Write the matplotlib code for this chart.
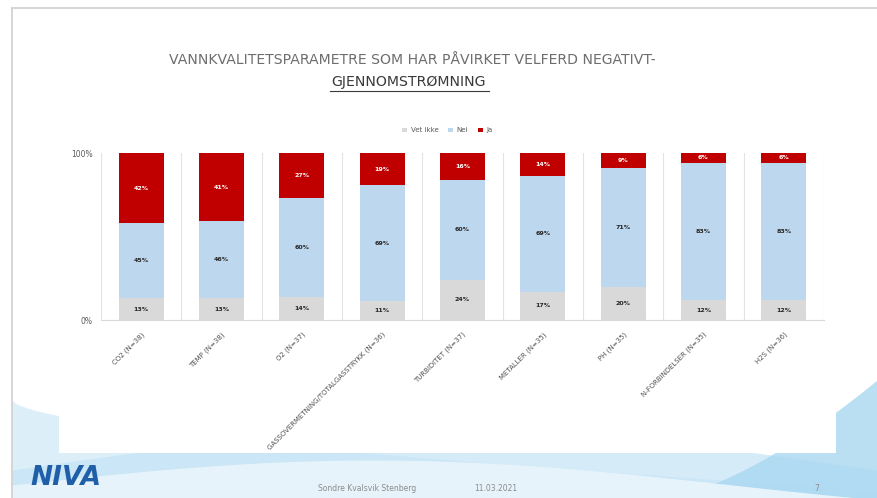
import numpy as np
import matplotlib.pyplot as plt
from matplotlib.patches import Rectangle

categories = ['CO2 (N=38)', 'TEMP (N=38)', 'O2 (N=37)',
              'GASSOVERMETNING/TOTALGASSTRYKK (N=36)', 'TURBIDITET (N=37)',
              'METALLER (N=35)', 'PH (N=35)', 'N-FORBINDELSER (N=35)', 'H2S (N=36)']
vet_ikke = [13, 13, 14, 11, 24, 17, 20, 12, 12]
nei = [45, 46, 60, 69, 60, 69, 71, 83, 83]
ja = [42, 41, 27, 19, 16, 14, 9, 6, 6]
series_names = ['Vet ikke', 'Nei', 'Ja']
colors = ['#d9d9d9', '#bdd7ee', '#c00000']

W, H = 877, 498
fig = plt.figure(figsize=(W / 100, H / 100), dpi=100)

# slide background
bg = fig.add_axes([0, 0, 1, 1])
bg.set_xlim(0, W)
bg.set_ylim(H, 0)
bg.axis('off')
xs = np.linspace(12, W, 300)
t = (xs - 12) / (W - 12)
bg.fill_between(xs, H, 400 + 90 * t ** 0.6, color='#d4ebf8', lw=0, alpha=0.8)
bg.fill_between(xs, H, 470 - 40 * np.sin(t * np.pi), color='#c4e3f5', lw=0, alpha=0.7)
ramp = np.clip((t - 0.75) / 0.25, 0, 1) ** 1.5
bg.fill_between(xs, H, H - (H - 380) * ramp, color='#a9d8f1', lw=0, alpha=0.8)
bg.fill_between(xs, H, 485 - 25 * np.sin(t * np.pi * 1.2), color='#e6f3fb', lw=0)
bg.plot([12, W], [8, 8], color='#d0d0d0', lw=1.2)
bg.plot([12, 12], [8, H], color='#d0d0d0', lw=1.2)
bg.add_patch(Rectangle((59, 100), 777, 353, facecolor='white', edgecolor='none'))
bg.text(30, 478, 'NIVA', color='#1f5fa8', fontsize=19, fontstyle='italic',
        fontweight='bold', va='center', ha='left')
bg.text(367, 488, 'Sondre Kvalsvik Stenberg', fontsize=5.5, color='#8c8c8c', ha='center', va='center')
bg.text(496, 488, '11.03.2021', fontsize=5.5, color='#8c8c8c', ha='center', va='center')
bg.text(817, 488, '7', fontsize=5.5, color='#8c8c8c', ha='center', va='center')

bg.text(412, 60, 'VANNKVALITETSPARAMETRE SOM HAR PÅVIRKET VELFERD NEGATIVT-',
        fontsize=10.1, color='#6e6e6e', ha='center', va='center', family='DejaVu Sans')
bg.text(409, 82, 'GJENNOMSTRØMNING', fontsize=10.2, color='#3a3a3a', ha='center',
        va='center', family='DejaVu Sans')
bg.plot([330, 489], [91, 91], color='#3a3a3a', lw=0.8)

ax = fig.add_axes([101 / W, 1 - 320 / H, 723 / W, 167 / H])
x = np.arange(len(categories))
totals = np.array(vet_ikke) + np.array(nei) + np.array(ja)
bottom = np.zeros(len(categories))
for name, vals, c in zip(series_names, [vet_ikke, nei, ja], colors):
    v = np.array(vals, dtype=float)
    h = v / totals * 100
    ax.bar(x, h, 0.56, bottom=bottom, color=c, label=name, zorder=3)
    for xi, b, hh, val in zip(x, bottom, h, v):
        ax.text(xi, b + hh / 2, f'{int(val)}%', ha='center', va='center',
                fontsize=4.5, fontweight='bold',
                color='white' if name == 'Ja' else '#262626', zorder=4)
    bottom += h

ax.set_xlim(-0.5, len(categories) - 0.5)
ax.set_ylim(0, 100)
ax.set_yticks([0, 100])
ax.set_yticklabels(['0%', '100%'], fontsize=5.5, color='#595959')
ax.set_xticks(x)
ax.set_xticklabels(categories, rotation=45, ha='right', rotation_mode='anchor',
                   fontsize=5, color='#505050')
ax.tick_params(axis='y', length=0, pad=6)
ax.tick_params(axis='x', length=0, pad=8)
for s in ['top', 'right', 'left']:
    ax.spines[s].set_visible(False)
ax.spines['bottom'].set_color('#d9d9d9')
for b in np.arange(-0.5, len(categories), 1):
    ax.axvline(b, color='#e3e3e3', lw=0.8, zorder=1)

ax.legend(loc='lower center', bbox_to_anchor=(0.479, 1.08), ncol=3, frameon=False,
          fontsize=5, handlelength=0.7, handleheight=0.7, columnspacing=1.4,
          handletextpad=0.5, labelcolor='#595959')

fig.savefig('out.png', dpi=100)
